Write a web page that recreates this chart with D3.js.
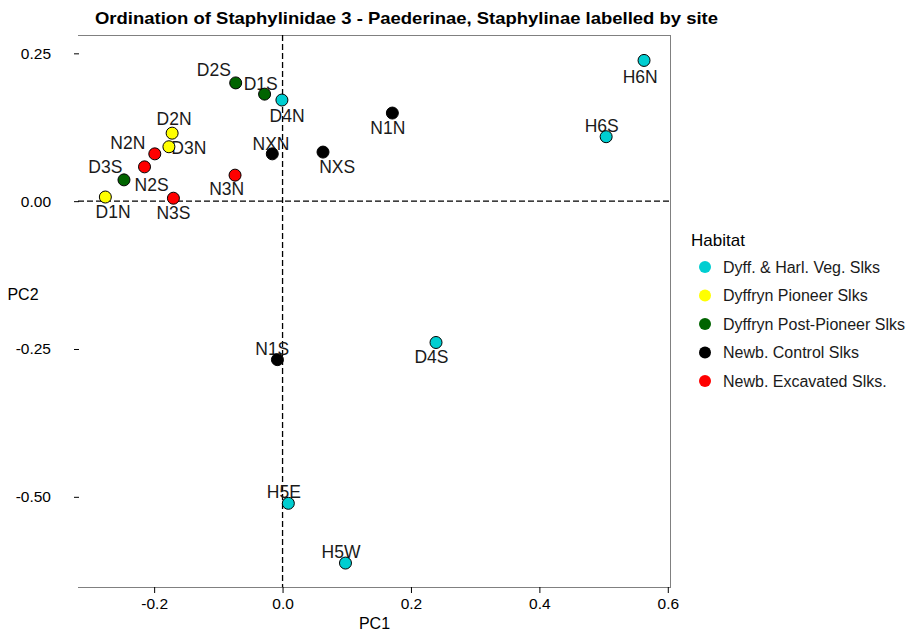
<!DOCTYPE html>
<html>
<head>
<meta charset="utf-8">
<script src="https://cdn.jsdelivr.net/npm/d3@7"></script>
<style>
  body { margin: 0; background: #fff; }
  svg { font-family: "Liberation Sans", Arial, sans-serif; }
</style>
</head>
<body>
<svg width="906" height="635"></svg>
<script>
// sites, habitat and PCA scores
const sites = ["H6N", "H6S", "D4N", "D4S", "H5E", "H5W", "D1N", "D2N", "D3N", "D1S", "D2S", "D3S",
  "N1N", "N1S", "NXN", "NXS", "N2N", "N2S", "N3N", "N3S"]
const habitat = [0, 0, 0, 0, 0, 0, 1, 1, 1, 2, 2, 2, 3, 3, 3, 3, 4, 4, 4, 4]
const pc1 = [0.563, 0.504, -0.001, 0.239, 0.009, 0.098, -0.276, -0.172, -0.177, -0.028, -0.073, -0.247,
  0.171, -0.008, -0.016, 0.063, -0.199, -0.215, -0.074, -0.170]
const pc2 = [0.238, 0.109, 0.171, -0.239, -0.511, -0.612, 0.007, 0.115, 0.092, 0.181, 0.200, 0.036,
  0.149, -0.268, 0.080, 0.083, 0.080, 0.058, 0.044, 0.005]
// repelled label positions (data units)
const lab1 = [0.557, 0.497, 0.007, 0.232, 0.002, 0.091, -0.264, -0.169, -0.146, -0.034, -0.107, -0.276,
  0.164, -0.016, -0.018, 0.085, -0.241, -0.204, -0.087, -0.170]
const lab2 = [0.210, 0.127, 0.145, -0.263, -0.491, -0.593, -0.018, 0.140, 0.090, 0.199, 0.222, 0.058,
  0.125, -0.249, 0.098, 0.058, 0.099, 0.027, 0.021, -0.019]

const habitats = ["Dyff. & Harl. Veg. Slks", "Dyffryn Pioneer Slks", "Dyffryn Post-Pioneer Slks",
  "Newb. Control Slks", "Newb. Excavated Slks."]
const colours = ["#00CED1", "#FFFF00", "#006400", "#000000", "#FF0000"]
const xTicks = [-0.2, 0.0, 0.2, 0.4, 0.6]
const yTicks = [0.25, 0.0, -0.25, -0.5]

const svg = d3.select("svg")
const margin = { top: 35, right: 235, bottom: 48, left: 78 }
const width = +svg.attr("width") - margin.left - margin.right
const height = +svg.attr("height") - margin.top - margin.bottom
const g = svg.append("g").attr("transform", "translate(" + margin.left + "," + margin.top + ")")

const x = d3.scaleLinear().domain([-0.3186, 0.6050]).range([0, width])
const y = d3.scaleLinear().domain([-0.6525, 0.281]).range([height, 0])
const grey = "#808080"

// title
svg.append("text")
  .attr("x", 95).attr("y", 24)
  .attr("font-size", 16.5).attr("font-weight", "bold")
  .attr("textLength", 623).attr("lengthAdjust", "spacingAndGlyphs")
  .text("Ordination of Staphylinidae 3 - Paederinae, Staphylinae labelled by site")

// panel border: top, right, bottom
g.append("line").attr("x1", 0).attr("x2", width).attr("y1", 0.5).attr("y2", 0.5).attr("stroke", grey)
g.append("line").attr("x1", width - 0.5).attr("x2", width - 0.5).attr("y1", 0).attr("y2", height).attr("stroke", grey)

// x axis
const xAxis = g.append("g")
  .attr("transform", "translate(0," + height + ")")
  .call(d3.axisBottom(x).tickValues(xTicks).tickFormat(d3.format(".1f")).tickSize(6).tickPadding(5))
xAxis.select(".domain").attr("stroke", grey).attr("d", "M0,0.5H" + width)
xAxis.selectAll(".tick line").attr("stroke", "#000")
xAxis.selectAll("text").attr("font-size", 15.5).attr("fill", "#000")
  .text(d => d3.format(".1f")(d).replace("−", "-"))

// y axis (ticks only, placed left of panel)
const yAxis = g.append("g")
  .attr("transform", "translate(-4,0)")
  .call(d3.axisLeft(y).tickValues(yTicks).tickFormat(d3.format(".2f")).tickSize(5).tickPadding(18))
yAxis.select(".domain").remove()
yAxis.selectAll(".tick line").attr("stroke", "#000").attr("transform", "translate(5,0)")
yAxis.selectAll("text").attr("font-size", 15.5).attr("fill", "#000")
  .text(d => d3.format(".2f")(d).replace("−", "-"))

// axis titles
svg.append("text").attr("x", margin.left + width / 2).attr("y", 629)
  .attr("text-anchor", "middle").attr("font-size", 16).text("PC1")
svg.append("text").attr("x", 23).attr("y", 300)
  .attr("text-anchor", "middle").attr("font-size", 16).text("PC2")

// reference lines
g.append("line").attr("x1", 0).attr("x2", width).attr("y1", y(0)).attr("y2", y(0))
  .attr("stroke", "#000").attr("stroke-dasharray", "6,3").attr("stroke-width", 1.3)
g.append("line").attr("x1", x(0)).attr("x2", x(0)).attr("y1", 0).attr("y2", height)
  .attr("stroke", "#000").attr("stroke-dasharray", "6,3").attr("stroke-width", 1.3)

const idx = d3.range(sites.length)

// labels
g.selectAll(".lab").data(idx).enter().append("text")
  .attr("class", "lab")
  .attr("x", i => x(lab1[i])).attr("y", i => y(lab2[i]))
  .attr("dy", "0.36em").attr("text-anchor", "middle")
  .attr("font-size", 17.5).attr("fill", "#1a1a1a")
  .text(i => sites[i])

// points
g.selectAll(".pt").data(idx).enter().append("circle")
  .attr("class", "pt")
  .attr("cx", i => x(pc1[i])).attr("cy", i => y(pc2[i]))
  .attr("r", 6)
  .attr("fill", i => colours[habitat[i]])
  .attr("stroke", "#000").attr("stroke-width", 1)

// legend
const lg = svg.append("g").attr("transform", "translate(691,0)")
lg.append("text").attr("x", 0).attr("y", 246).attr("font-size", 17).text("Habitat")
const items = lg.selectAll(".item").data(habitats).enter().append("g")
  .attr("class", "item")
  .attr("transform", (d, i) => "translate(0," + (267 + i * 28.5) + ")")
items.append("circle").attr("cx", 14).attr("cy", 0).attr("r", 6)
  .attr("fill", (d, i) => colours[i])
items.append("text").attr("x", 32).attr("y", 0).attr("dy", "0.36em")
  .attr("font-size", 16).attr("fill", "#1a1a1a").text(d => d)
</script>
</body>
</html>
